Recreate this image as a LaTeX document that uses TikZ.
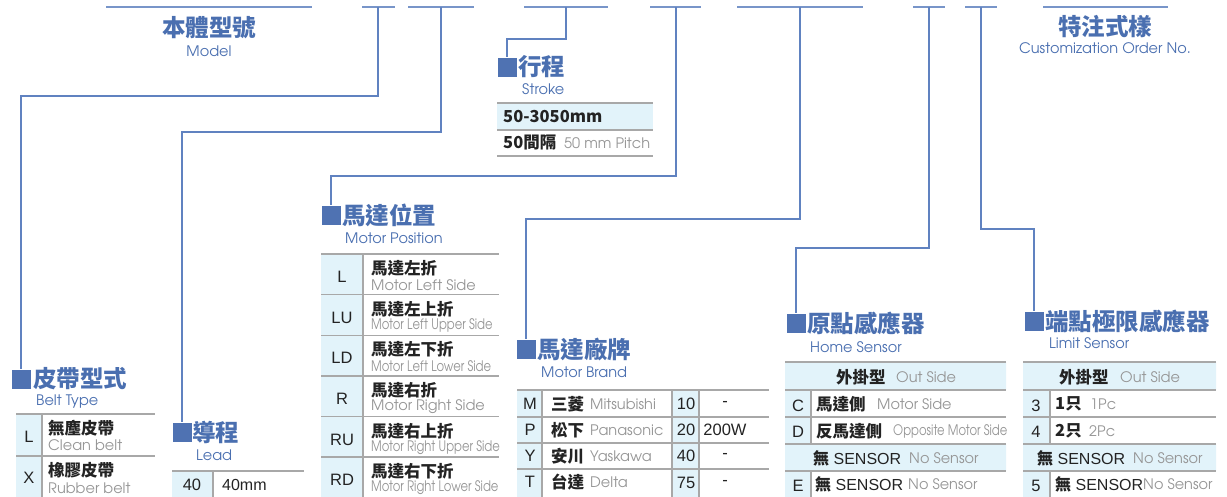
\documentclass[tikz,border=0pt]{standalone}
\usepackage{fontspec}
\setmainfont{Liberation Sans}
\newfontfamily\cjk{Noto Sans CJK TC}
\newfontfamily\geo{TeX Gyre Adventor}
\newfontfamily\geocond[FakeStretch=0.8]{TeX Gyre Adventor}
\usetikzlibrary{positioning}
\definecolor{linha}{RGB}{96,130,192}
\definecolor{azul}{RGB}{74,111,176}
\definecolor{quad}{RGB}{79,114,178}
\definecolor{celula}{RGB}{226,243,250}
\definecolor{regra}{RGB}{168,168,168}
\definecolor{cinza}{RGB}{150,150,150}
\definecolor{preto}{RGB}{35,35,35}

\begin{document}
\begin{tikzpicture}[x=1pt, y=-1pt]
    \tikzstyle{seg} = [draw=linha!85, line width=2pt]
    \tikzstyle{link} = [draw=linha, line width=1.4pt]
    \tikzstyle{marker} = [rectangle, fill=quad, minimum size=19pt, inner sep=0pt]
    \tikzstyle{heading} = [inner sep=0pt, anchor=west, text=azul,
        font=\cjk\bfseries\fontsize{23.5}{24}\selectfont]
    \tikzstyle{subhead} = [inner sep=0pt, anchor=west, text=azul,
        font=\geo\fontsize{14.5}{15}\selectfont]
    \tikzstyle{tabline} = [draw=regra, line width=1.4pt]
    \tikzstyle{keytext} = [inner sep=0pt, text=preto, font=\fontsize{16.5}{17}\selectfont]
    \tikzstyle{latin} = [inner sep=0pt, anchor=west, text=preto, font=\fontsize{16}{17}\selectfont]
    \tikzstyle{zh} = [inner sep=0pt, anchor=west, text=preto,
        font=\cjk\bfseries\fontsize{16.5}{17}\selectfont]
    \tikzstyle{en} = [inner sep=0pt, anchor=west, text=cinza, font=\geo\fontsize{14.5}{15}\selectfont]
    \tikzstyle{encond} = [inner sep=0pt, anchor=west, text=cinza, font=\geocond\fontsize{14.5}{15}\selectfont]

    \useasboundingbox (0,0) rectangle (1227,496);

    % barras do código no topo
    \draw [seg] (106,7) -- (312,7);
    \draw [seg] (362,7) -- (395,7);
    \draw [seg] (408,7) -- (474,7);
    \draw [seg] (524,7) -- (608,7);
    \draw [seg] (650,7) -- (701,7);
    \draw [seg] (737,7) -- (863,7);
    \draw [seg] (913,7) -- (945,7);
    \draw [seg] (965,7) -- (997,7);
    \draw [seg] (1043,7) -- (1168,7);
    \coordinate (mB) at (378,7);
    \coordinate (mC) at (441,7);
    \coordinate (mD) at (566,7);
    \coordinate (mE) at (676,7);
    \coordinate (mF) at (800,7);
    \coordinate (mG) at (929,7);
    \coordinate (mH) at (981,7);

    \node (model) [heading, anchor=center] at (209,28) {本體型號};
    \node (modelsub) [subhead, anchor=center] at (209,51) {Model};
    \node (custom) [heading, anchor=center] at (1105,27) {特注式樣};
    \node (customsub) [subhead, anchor=center] at (1105,48) {Customization Order No.};

    % tipo de correia
    \node (beltsq) [marker] at (21,379) {};
    \node (belttitle) [heading] at (33,379) {皮帶型式};
    \node (beltsub) [subhead] at (36,402) {Belt Type};
    \fill [celula] (16,414) rectangle (42,498);
    \draw [tabline] (16,414) -- (155,414) (16,456) -- (155,456) (42,414) -- (42,498);
    \node (beltL) [keytext] at (29,437) {L};
    \node (beltLzh) [zh] at (48,428) {無塵皮帶};
    \node (beltLen) [en] at (48,445) {Clean belt};
    \node (beltX) [keytext] at (29,478) {X};
    \node (beltXzh) [zh] at (48,470) {橡膠皮帶};
    \node (beltXen) [en] at (48,488) {Rubber belt};

    % passo
    \node (leadsq) [marker] at (182,432) {};
    \node (leadtitle) [heading] at (192,432) {導程};
    \node (leadsub) [subhead] at (196,455) {Lead};
    \fill [celula] (172,471) rectangle (213,498);
    \draw [tabline] (172,471) -- (304,471) (213,471) -- (213,498);
    \node (lead40) [keytext] at (192,485) {40};
    \node (lead40mm) [latin] at (222,485) {40mm};

    % curso
    \node (strokesq) [marker] at (507,67) {};
    \node (stroketitle) [heading] at (518,67) {行程};
    \node (strokesub) [subhead] at (522,89) {Stroke};
    \fill [celula] (497,103) rectangle (653,130);
    \draw [tabline] (497,103) -- (653,103) (497,130) -- (653,130) (497,156) -- (653,156);
    \node (strokerange) [zh] at (503,117) {50-3050mm};
    \node (strokepitch) [zh] at (503,143) {50間隔};
    \node (strokepitchen) [en] at (564,143) {50 mm Pitch};

    % posição do motor
    \node (possq) [marker] at (331,215) {};
    \node (postitle) [heading] at (342,215) {馬達位置};
    \node (possub) [subhead] at (345,238) {Motor Position};
    \fill [celula] (321,254) rectangle (363,498);
    \draw [tabline] (321,254) -- (499,254) (321,294.6) -- (499,294.6)
        (321,335.2) -- (499,335.2) (321,375.8) -- (499,375.8)
        (321,416.4) -- (499,416.4) (321,457) -- (499,457) (363,254) -- (363,498);
    \node (posL) [keytext] at (342,277) {L};
    \node (posLzh) [zh] at (371,268.5) {馬達左折};
    \node (posLen) [en] at (371,285) {Motor Left Side};
    \node (posLU) [keytext] at (342,317.6) {LU};
    \node (posLUzh) [zh] at (371,309.1) {馬達左上折};
    \node (posLUen) [encond] at (371,325.6) {Motor Left Upper Side};
    \node (posLD) [keytext] at (342,358.2) {LD};
    \node (posLDzh) [zh] at (371,349.7) {馬達左下折};
    \node (posLDen) [encond] at (371,366.2) {Motor Left Lower Side};
    \node (posR) [keytext] at (342,398.8) {R};
    \node (posRzh) [zh] at (371,390.3) {馬達右折};
    \node (posRen) [en] at (371,406.8) {Motor Right Side};
    \node (posRU) [keytext] at (342,439.4) {RU};
    \node (posRUzh) [zh] at (371,430.9) {馬達右上折};
    \node (posRUen) [encond] at (371,447.4) {Motor Right Upper Side};
    \node (posRD) [keytext] at (342,480) {RD};
    \node (posRDzh) [zh] at (371,471.5) {馬達右下折};
    \node (posRDen) [encond] at (371,488) {Motor Right Lower Side};

    % marca do motor
    \node (brandsq) [marker] at (526,349) {};
    \node (brandtitle) [heading] at (537,349) {馬達廠牌};
    \node (brandsub) [subhead] at (541,372) {Motor Brand};
    \fill [celula] (517,390) rectangle (542,498) (672,390) rectangle (699,498);
    \draw [tabline] (517,390) -- (769,390) (517,417) -- (769,417) (517,443) -- (769,443)
        (517,469) -- (769,469) (542,390) -- (542,498) (672,390) -- (672,498) (699,390) -- (699,498);
    \node (brandM) [keytext] at (530,404) {M};
    \node (brandMzh) [zh] at (551,404) {三菱};
    \node (brandMen) [en] at (590,404) {Mitsubishi};
    \node (brandMnum) [keytext] at (686,404) {10};
    \node (brandMw) [keytext] at (725,404) {-};
    \node (brandP) [keytext] at (530,430) {P};
    \node (brandPzh) [zh] at (551,430) {松下};
    \node (brandPen) [en] at (590,430) {Panasonic};
    \node (brandPnum) [keytext] at (686,430) {20};
    \node (brandPw) [keytext] at (725,430) {200W};
    \node (brandY) [keytext] at (530,456) {Y};
    \node (brandYzh) [zh] at (551,456) {安川};
    \node (brandYen) [en] at (590,456) {Yaskawa};
    \node (brandYnum) [keytext] at (686,456) {40};
    \node (brandYw) [keytext] at (725,456) {-};
    \node (brandT) [keytext] at (530,482) {T};
    \node (brandTzh) [zh] at (551,482) {台達};
    \node (brandTen) [en] at (590,482) {Delta};
    \node (brandTnum) [keytext] at (686,483) {75};
    \node (brandTw) [keytext] at (725,483) {-};

    % sensor de origem
    \node (homesq) [marker] at (796,323) {};
    \node (hometitle) [heading] at (807,323) {原點感應器};
    \node (homesub) [subhead] at (810,347) {Home Sensor};
    \fill [celula] (785,362) rectangle (1006,390) (785,444) rectangle (1006,471)
        (785,390) rectangle (811,444) (785,471) rectangle (811,498);
    \draw [tabline] (785,362) -- (1006,362) (785,390) -- (1006,390) (785,417) -- (1006,417)
        (785,444) -- (1006,444) (785,471) -- (1006,471) (811,390) -- (811,444) (811,471) -- (811,498);
    \node (homeout) [zh] at (836,377) {外掛型};
    \node (homeouten) [en] at (896,377) {Out Side};
    \node (homeC) [keytext] at (798,406) {C};
    \node (homeCzh) [zh] at (816,404) {馬達側};
    \node (homeCen) [en] at (877,404) {Motor Side};
    \node (homeD) [keytext] at (798,432) {D};
    \node (homeDzh) [zh] at (816,431) {反馬達側};
    \node (homeDen) [encond] at (893,431) {Opposite Motor Side};
    \node (homenone) [latin] at (813,458) {{\cjk\bfseries 無} SENSOR};
    \node (homenoneen) [en] at (909,458) {No Sensor};
    \node (homeE) [keytext] at (798,486) {E};
    \node (homeEzh) [latin] at (815,484) {{\cjk\bfseries 無} SENSOR};
    \node (homeEen) [en] at (908,484) {No Sensor};

    % sensor de limite
    \node (limsq) [marker] at (1034,321) {};
    \node (limtitle) [heading] at (1045,321) {端點極限感應器};
    \node (limsub) [subhead] at (1049,343) {Limit Sensor};
    \fill [celula] (1023,362) rectangle (1216,390) (1023,444) rectangle (1216,471)
        (1023,390) rectangle (1050,444) (1023,471) rectangle (1050,498);
    \draw [tabline] (1023,362) -- (1216,362) (1023,390) -- (1216,390) (1023,417) -- (1216,417)
        (1023,444) -- (1216,444) (1023,471) -- (1216,471) (1050,390) -- (1050,444) (1050,471) -- (1050,498);
    \node (limout) [zh] at (1059,377) {外掛型};
    \node (limouten) [en] at (1120,377) {Out Side};
    \node (lim3) [keytext] at (1036,406) {3};
    \node (lim3zh) [zh] at (1055,404) {1只};
    \node (lim3en) [en] at (1090,404) {1Pc};
    \node (lim4) [keytext] at (1036,432) {4};
    \node (lim4zh) [zh] at (1055,431) {2只};
    \node (lim4en) [en] at (1089,431) {2Pc};
    \node (limnone) [latin] at (1037,458) {{\cjk\bfseries 無} SENSOR};
    \node (limnoneen) [en] at (1133,458) {No Sensor};
    \node (lim5) [keytext] at (1036,486) {5};
    \node (lim5zh) [latin] at (1055,484) {{\cjk\bfseries 無} SENSOR};
    \node (lim5en) [en] at (1143,484) {No Sensor};

    % ligações às caixas
    \draw [link] (mB) -- (378,96) -| (beltsq);
    \draw [link] (mC) -- (441,132) -| (leadsq);
    \draw [link] (mD) -- (566,39) -| (strokesq);
    \draw [link] (mE) -- (676,176) -| (possq);
    \draw [link] (mF) -- (800,219) -| (brandsq);
    \draw [link] (mG) -- (929,248) -| (homesq);
    \draw [link] (mH) -- (981,229) -| (limsq);
\end{tikzpicture}
\end{document}
